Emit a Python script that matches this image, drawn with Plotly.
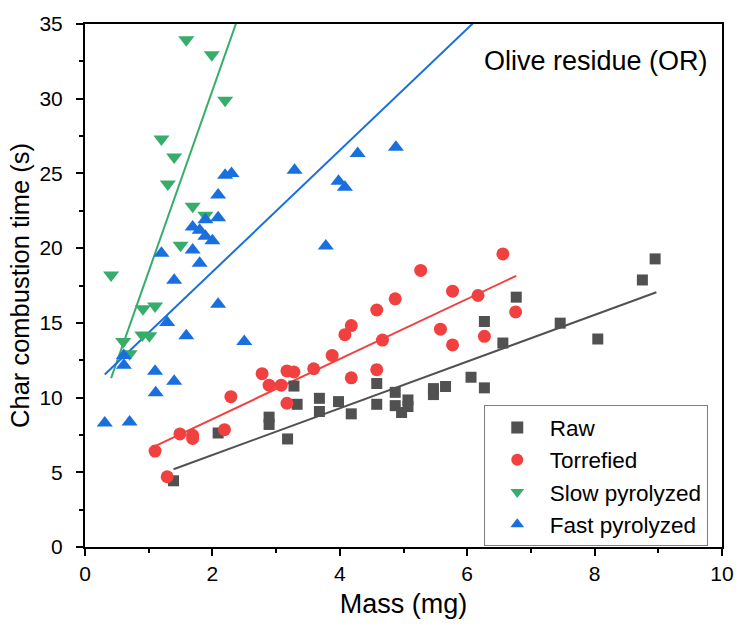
import plotly.graph_objects as go

# ---------------- data ----------------
raw_x = [1.39, 2.09, 2.89, 2.89, 3.18, 3.28, 3.33, 3.68, 3.68, 3.98, 4.18, 4.58, 4.58,
         4.87, 4.87, 4.97, 5.07, 5.07, 5.47, 5.47, 5.66, 6.06, 6.27, 6.27, 6.56, 6.77,
         7.46, 8.05, 8.75, 8.95]
raw_y = [4.43, 7.63, 8.69, 8.20, 7.23, 10.77, 9.55, 9.95, 9.07, 9.73, 8.91, 10.94, 9.55,
         10.35, 9.46, 9.00, 9.84, 9.40, 10.60, 10.20, 10.74, 11.36, 10.65, 15.09, 13.65, 16.72,
         14.98, 13.92, 17.87, 19.28]

tor_x = [1.10, 1.29, 1.49, 1.69, 1.69, 2.19, 2.29, 2.78, 2.89, 3.08, 3.17, 3.28, 3.17,
         3.59, 3.88, 4.08, 4.18, 4.18, 4.58, 4.67, 4.58, 4.87, 5.27, 5.58, 5.77, 5.77,
         6.17, 6.27, 6.56, 6.76]
tor_y = [6.42, 4.70, 7.57, 7.48, 7.26, 7.85, 10.06, 11.60, 10.83, 10.83, 11.78, 11.71, 9.62,
         11.93, 12.82, 14.21, 14.82, 11.32, 15.86, 13.85, 11.87, 16.61, 18.51, 14.58, 17.12, 13.52,
         16.83, 14.10, 19.61, 15.73]

slow_x = [1.59, 1.99, 2.20, 1.20, 1.40, 1.30, 1.69, 1.89, 1.50, 0.41, 0.91, 1.10,
          0.90, 1.01, 0.60, 0.70]
slow_y = [33.95, 32.95, 29.90, 27.30, 26.10, 24.30, 22.80, 22.20, 20.20, 18.20, 15.95, 16.13,
          14.18, 14.14, 13.75, 12.93]

fast_x = [0.31, 0.70, 1.11, 1.40, 1.10, 0.61, 0.61, 1.29, 1.59, 2.50, 2.09, 1.40, 1.20,
          1.69, 1.80, 1.69, 1.80, 1.89, 2.00, 2.09, 1.89, 2.20, 2.30, 2.09, 3.29, 3.78,
          3.98, 4.08, 4.28, 4.88]
fast_y = [8.29, 8.36, 10.32, 11.10, 11.76, 12.82, 12.16, 15.02, 14.14, 13.75, 16.24, 17.85, 19.66,
          19.87, 18.99, 21.42, 21.20, 20.80, 20.50, 22.04, 21.90, 24.88, 25.00, 23.56, 25.21, 20.14,
          24.47, 24.07, 26.34, 26.76]

# linear-fit lines (end points)
raw_fit_x = [1.39, 8.97]
raw_fit_y = [5.20, 17.05]
tor_fit_x = [1.10, 6.77]
tor_fit_y = [6.75, 18.15]
slow_fit_x = [0.41, 2.50]
slow_fit_y = [11.30, 36.60]
fast_fit_x = [0.31, 6.30]
fast_fit_y = [11.54, 35.90]

names = ["Raw", "Torrefied", "Slow pyrolyzed", "Fast pyrolyzed"]
colors = ["#515151", "#F14040", "#37AD6B", "#1A6FDF"]
symbols = ["square", "circle", "triangle-down", "triangle-up"]
sizes = [11, 13, 14, 14]

series = [(raw_x, raw_y, raw_fit_x, raw_fit_y),
          (tor_x, tor_y, tor_fit_x, tor_fit_y),
          (slow_x, slow_y, slow_fit_x, slow_fit_y),
          (fast_x, fast_y, fast_fit_x, fast_fit_y)]

fig = go.Figure()
for (xs, ys, fx, fy), n, c, s, sz in zip(series, names, colors, symbols, sizes):
    fig.add_trace(go.Scatter(x=fx, y=fy, mode="lines", line=dict(color=c, width=2),
                             showlegend=False, hoverinfo="skip"))
for (xs, ys, fx, fy), n, c, s, sz in zip(series, names, colors, symbols, sizes):
    fig.add_trace(go.Scatter(x=xs, y=ys, mode="markers", name=n,
                             marker=dict(symbol=s, color=c, size=sz, line=dict(width=0))))

font_family = "Liberation Sans, Arial, sans-serif"
axis_common = dict(showline=True, linecolor="black", linewidth=2, mirror=True,
                   ticks="outside", ticklen=7, tickwidth=1.5, tickcolor="black",
                   showgrid=False, zeroline=False,
                   tickfont=dict(family=font_family, size=21, color="black"))

fig.update_layout(
    width=746, height=635,
    margin=dict(l=85, r=16, t=19, b=88),
    paper_bgcolor="white", plot_bgcolor="white",
    font=dict(family=font_family, color="black"),
    xaxis=dict(range=[0, 10], dtick=2, tick0=0,
               minor=dict(ticks="outside", ticklen=4, tickwidth=1.5, tickcolor="black", dtick=1),
               title=dict(text="Mass (mg)", font=dict(size=27, family=font_family), standoff=10),
               **axis_common),
    yaxis=dict(range=[0, 35], dtick=5, tick0=0, ticklabelstandoff=9,
               minor=dict(ticks="outside", ticklen=4, tickwidth=1.5, tickcolor="black", dtick=2.5),
               title=dict(text="Char combustion time (s)", font=dict(size=25.5, family=font_family), standoff=3),
               **axis_common),
    legend=dict(x=0.626, y=0.271, xanchor="left", yanchor="top",
                bgcolor="white", bordercolor="#808080", borderwidth=1,
                font=dict(family=font_family, size=22.5, color="black"),
                itemsizing="constant", itemwidth=55, tracegroupgap=0),
    annotations=[dict(text="Olive residue (OR)", x=0.802, y=0.93, xref="paper", yref="paper",
                      xanchor="center", yanchor="middle",
                      showarrow=False, font=dict(family=font_family, size=27, color="black"))],
)

fig.write_html("out.html")
